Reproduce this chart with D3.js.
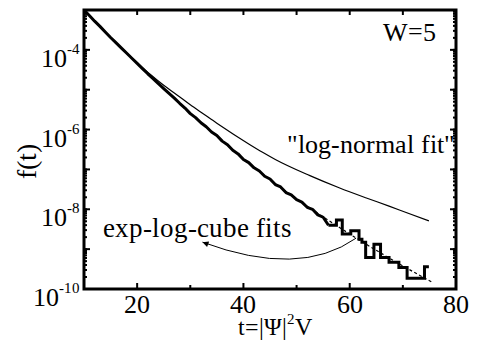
<!DOCTYPE html>
<html>
<head>
<meta charset="utf-8">
<script src="https://cdn.jsdelivr.net/npm/d3@7"></script>
<style>
@font-face { font-family: "ChartSerif"; src: local("Liberation Serif"), local("LiberationSerif"), local("Tinos"); }
svg text { font-family: "ChartSerif", "Liberation Serif", Tinos, "Times New Roman", serif !important; }
</style>
</head>
<body style="margin:0">
<div id="chart"></div>
<script>
// histogram f(t), smooth-looking part: bin centre t and log10 f
var histT = [10, 11, 12, 13, 14, 15, 16, 17, 18, 19, 20, 21, 22, 23, 24, 25, 26, 27, 28, 29,
    30, 31, 32, 33, 34, 35, 36, 37, 38, 39, 40, 41, 42, 43, 44, 45, 46, 47, 48, 49,
    50, 51, 52, 53, 54, 55, 56];
var histLog = [-3.00, -3.14, -3.28, -3.41, -3.55, -3.69, -3.82, -3.95, -4.08, -4.21, -4.34, -4.47,
    -4.60, -4.72, -4.85, -4.97, -5.09, -5.21, -5.34, -5.46,
    -5.60, -5.70, -5.83, -5.93, -6.06, -6.15, -6.29, -6.38, -6.52, -6.61,
    -6.75, -6.83, -6.96, -7.04, -7.17, -7.24, -7.38, -7.44, -7.58, -7.64,
    -7.76, -7.82, -7.95, -8.00, -8.14, -8.20, -8.40];
// histogram tail, visible steps: bin start t and log10 f, last edge closes the final bin
var tailT = [56, 57.5, 58.6, 60.2, 61.75, 62.3, 63.0, 64.56, 65.8, 67.4, 69.25, 70.8, 74.07];
var tailLog = [-8.40, -8.27, -8.62, -8.54, -8.75, -8.83, -9.21, -8.88, -9.21, -9.33, -9.46, -9.73, -9.44];
var tailEnd = 74.9;

// exp-log-cube fit (dashed)
var fitT = [10, 15, 20, 25, 30, 35, 40, 45, 50, 55, 60, 65, 70, 75.5];
var fitLog = [-3.00, -3.69, -4.34, -4.96, -5.58, -6.16, -6.73, -7.26, -7.74, -8.19, -8.62, -9.03, -9.42, -9.83];

// "log-normal fit" (thin line)
var lnT = [10, 15, 20, 22.5, 25, 27.5, 30, 32.5, 35, 41, 43.6, 46, 52.4, 58, 63, 67.4, 71, 74.9];
var lnLog = [-3.00, -3.68, -4.32, -4.62, -4.89, -5.13, -5.38, -5.61, -5.84, -6.36, -6.57, -6.75, -7.15,
    -7.46, -7.71, -7.92, -8.10, -8.29];

var xLabelTicks = [20, 40, 60, 80];
var xMinorTicks = [30, 50, 70];
var yLabelExps = [-4, -6, -8, -10];

var serif = "ChartSerif, 'Liberation Serif', Tinos, 'Times New Roman', serif";

var margin = {top: 10, right: 21, bottom: 53, left: 84};
var width = 477 - margin.left - margin.right;
var height = 342 - margin.top - margin.bottom;

var x = d3.scaleLinear().domain([10, 80]).range([0, width]);
var y = d3.scaleLog().domain([1e-10, 1e-3]).range([height, 0]);

var svg = d3.select("#chart").append("svg")
    .attr("width", 477)
    .attr("height", 342)
    .style("font-family", serif);

svg.append("defs").append("marker")
    .attr("id", "ah")
    .attr("viewBox", "0 0 10 10")
    .attr("refX", 10)
    .attr("refY", 5)
    .attr("markerUnits", "userSpaceOnUse")
    .attr("markerWidth", 10)
    .attr("markerHeight", 6)
    .attr("orient", "auto")
    .append("path")
    .attr("d", "M0,0L10,5L0,10z")
    .attr("fill", "#000");

var g = svg.append("g")
    .attr("transform", "translate(" + margin.left + "," + margin.top + ")");

var hist = histT.map(function (t, i) { return [t, Math.pow(10, histLog[i])]; });
var tail = tailT.map(function (t, i) { return [t, Math.pow(10, tailLog[i])]; });
tail.push([tailEnd, Math.pow(10, tailLog[tailLog.length - 1])]);
var fit = fitT.map(function (t, i) { return [t, Math.pow(10, fitLog[i])]; });
var ln = lnT.map(function (t, i) { return [t, Math.pow(10, lnLog[i])]; });

var line = d3.line()
    .x(function (d) { return x(d[0]); })
    .y(function (d) { return y(d[1]); });

g.append("path")
    .datum(ln)
    .attr("fill", "none")
    .attr("stroke", "#000")
    .attr("stroke-width", 1.2)
    .attr("d", line.curve(d3.curveMonotoneX));

g.append("path")
    .datum(hist)
    .attr("fill", "none")
    .attr("stroke", "#000")
    .attr("stroke-width", 3)
    .attr("stroke-linejoin", "round")
    .attr("d", line.curve(d3.curveLinear));

g.append("path")
    .datum(tail)
    .attr("fill", "none")
    .attr("stroke", "#000")
    .attr("stroke-width", 3)
    .attr("d", line.curve(d3.curveStepAfter));

g.append("path")
    .datum(fit)
    .attr("fill", "none")
    .attr("stroke", "#000")
    .attr("stroke-width", 1.2)
    .attr("stroke-dasharray", "3,2.5")
    .attr("d", line.curve(d3.curveMonotoneX));

// arrow from the tail towards the label
var ap = d3.path();
ap.moveTo(x(61.2), y(Math.pow(10, -8.725)));
ap.quadraticCurveTo(x(50.5), y(Math.pow(10, -9.725)), x(32.3), y(Math.pow(10, -8.825)));
g.append("path")
    .attr("d", ap.toString())
    .attr("fill", "none")
    .attr("stroke", "#000")
    .attr("stroke-width", 1)
    .attr("marker-end", "url(#ah)");

// ticks (inward), drawn as plain lines
var yMinor = y.ticks();
var yMajor = yMinor.filter(function (d) { return Math.abs(Math.log10(d) - Math.round(Math.log10(d))) < 1e-6; });

function yTicks(vals, len) {
    [0, width].forEach(function (x0) {
        var dir = x0 === 0 ? 1 : -1;
        g.selectAll(null).data(vals).enter().append("line")
            .attr("x1", x0).attr("x2", x0 + dir * len)
            .attr("y1", function (d) { return y(d); }).attr("y2", function (d) { return y(d); })
            .attr("stroke", "#000").attr("stroke-width", 2);
    });
}
yTicks(yMinor, 3);
yTicks(yMajor, 6);

function xTicks(vals, y0, len) {
    var dir = y0 === 0 ? 1 : -1;
    g.selectAll(null).data(vals).enter().append("line")
        .attr("x1", function (d) { return x(d); }).attr("x2", function (d) { return x(d); })
        .attr("y1", y0).attr("y2", y0 + dir * len)
        .attr("stroke", "#000").attr("stroke-width", 2);
}
xTicks(xLabelTicks, height, 6);
xTicks(xMinorTicks, height, 4);
xTicks([20, 30, 40, 50, 60, 70], 0, 5);

g.append("rect")
    .attr("width", width)
    .attr("height", height)
    .attr("fill", "none")
    .attr("stroke", "#000")
    .attr("stroke-width", 3);

// tick labels
g.selectAll(null).data(xLabelTicks).enter().append("text")
    .attr("x", function (d) { return x(d); })
    .attr("y", height + 24)
    .attr("text-anchor", "middle")
    .style("font-family", serif)
    .style("font-size", "26px")
    .text(function (d) { return d; });

yLabelExps.forEach(function (e) {
    var t = g.append("text")
        .attr("x", -4)
        .attr("y", y(Math.pow(10, e)) + 17)
        .attr("text-anchor", "end")
        .style("font-family", serif)
        .style("font-size", "26px");
    t.append("tspan").text("10");
    t.append("tspan").attr("dy", -13).style("font-size", "15px").text("-" + (-e));
});

// axis titles
svg.append("text")
    .attr("transform", "translate(36,161) rotate(-90)")
    .attr("text-anchor", "middle")
    .style("font-family", serif)
    .style("font-size", "28px")
    .text("f(t)");

var xt = svg.append("text")
    .attr("x", 275)
    .attr("y", 335)
    .attr("text-anchor", "middle")
    .style("font-family", serif)
    .style("font-size", "24px");
xt.append("tspan").text("t=|\u03A8|");
xt.append("tspan").attr("dy", -11).style("font-size", "15px").text("2");
xt.append("tspan").attr("dy", 11).text("V");

// annotations
g.append("text").attr("x", 352).attr("y", 31).attr("text-anchor", "end")
    .style("font-family", serif).style("font-size", "26px").text("W=5");
g.append("text").attr("x", 371).attr("y", 143).attr("text-anchor", "end")
    .style("font-family", serif).style("font-size", "26px").text("\"log-normal fit\"");
g.append("text").attr("x", 19).attr("y", 227)
    .style("font-family", serif).style("font-size", "27px").text("exp-log-cube fits");
</script>
</body>
</html>
